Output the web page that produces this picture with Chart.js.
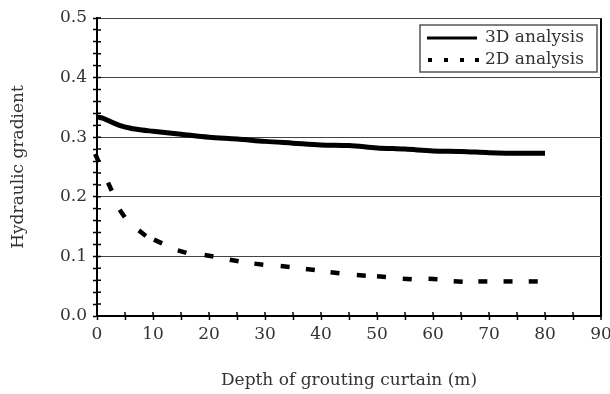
<!DOCTYPE html>
<html>
<head>
<meta charset="utf-8">
<script src="https://cdn.jsdelivr.net/npm/chart.js@4/dist/chart.umd.min.js"></script>
<style>
  html, body { margin: 0; padding: 0; background: #fff; }
  #wrap { width: 610px; height: 394px; }
</style>
</head>
<body>
<div id="wrap"><canvas id="grad" width="610" height="394"></canvas></div>
<script>
// hydraulic gradient vs depth of grouting curtain
const depth3D = [0, 1, 2, 4, 6, 8, 10, 15, 20, 25, 30, 35, 40, 45, 50, 55, 60, 65, 70, 75, 80];
const grad3D  = [0.334, 0.332, 0.328, 0.320, 0.315, 0.312, 0.310, 0.305, 0.300, 0.297, 0.293,
                 0.290, 0.287, 0.286, 0.282, 0.280, 0.277, 0.276, 0.274, 0.273, 0.273];

const depth2D = [0, 2.3, 4.5, 8.1, 10.9, 15.2, 20, 24.5, 28.9, 33.6, 38.1, 42.5, 47.2, 50.8,
                 55.4, 60, 64.5, 68.9, 73.4, 77.9];
const grad2D  = [0.265, 0.217, 0.172, 0.139, 0.125, 0.108, 0.101, 0.093, 0.087, 0.083, 0.078,
                 0.0725, 0.068, 0.066, 0.062, 0.062, 0.058, 0.058, 0.058, 0.058];

const seriesNames = ['3D analysis', '2D analysis'];
const xTickLabels = [0, 10, 20, 30, 40, 50, 60, 70, 80, 90];
const yTickLabels = ['0.0', '0.1', '0.2', '0.3', '0.4', '0.5'];

const FONT = 'DejaVu Serif';
const FSIZE = 17;
const TEXT = '#333';

function toPoints(xs, ys) {
    return xs.map((x, i) => ({ x: x, y: ys[i] }));
}

function isMajor(v, step) {
    const k = v / step;
    return Math.abs(k - Math.round(k)) < 1e-6;
}

// dash orientation follows the curve between neighbouring points
function dashAngle(ctx) {
    const i = ctx.dataIndex;
    const n = depth2D.length;
    const a = Math.max(i - 1, 0), b = Math.min(i + 1, n - 1);
    const sx = ctx.chart.scales.x, sy = ctx.chart.scales.y;
    if (!sx || !sy) return 0;
    const dx = sx.getPixelForValue(depth2D[b]) - sx.getPixelForValue(depth2D[a]);
    const dy = sy.getPixelForValue(grad2D[b]) - sy.getPixelForValue(grad2D[a]);
    return Math.atan2(dy, dx) * 180 / Math.PI;
}

// tick marks cross the axis: draw the inner half
const innerTicks = {
    id: 'innerTicks',
    afterDatasetsDraw(chart) {
        const { ctx, scales: { x, y } } = chart;
        ctx.save();
        ctx.strokeStyle = '#000';
        ctx.lineWidth = 1.5;
        ctx.beginPath();
        y.ticks.forEach(t => {
            const py = y.getPixelForValue(t.value);
            ctx.moveTo(x.left, py);
            ctx.lineTo(x.left + 4, py);
        });
        x.ticks.forEach(t => {
            const px = x.getPixelForValue(t.value);
            ctx.moveTo(px, y.bottom);
            ctx.lineTo(px, y.bottom - 4);
        });
        ctx.stroke();
        ctx.restore();
    }
};

// boxed legend in the upper right corner
const boxLegend = {
    id: 'boxLegend',
    afterDraw(chart) {
        const ctx = chart.ctx;
        const bx = 420, by = 25, bw = 177, bh = 47;
        ctx.save();
        ctx.fillStyle = '#fff';
        ctx.fillRect(bx, by, bw, bh);
        ctx.strokeStyle = '#555';
        ctx.lineWidth = 1.5;
        ctx.strokeRect(bx, by, bw, bh);

        ctx.strokeStyle = '#000';
        ctx.lineWidth = 3;
        ctx.beginPath();
        ctx.moveTo(427, 38);
        ctx.lineTo(477, 38);
        ctx.stroke();

        ctx.fillStyle = '#000';
        [430, 446, 462, 477].forEach(px => ctx.fillRect(px - 2, 58, 4, 4));

        ctx.fillStyle = TEXT;
        ctx.font = FSIZE + 'px "' + FONT + '"';
        ctx.textBaseline = 'middle';
        ctx.fillText(seriesNames[0], 485, 38);
        ctx.fillText(seriesNames[1], 485, 60);
        ctx.restore();
    }
};

new Chart(document.getElementById('grad'), {
    type: 'scatter',
    data: {
        datasets: [{
            label: seriesNames[0],
            data: toPoints(depth3D, grad3D),
            showLine: true,
            borderColor: '#000',
            borderWidth: 5,
            pointRadius: 0,
            cubicInterpolationMode: 'monotone'
        }, {
            label: seriesNames[1],
            data: toPoints(depth2D, grad2D),
            showLine: false,
            pointStyle: 'line',
            pointRadius: 4.5,
            pointBorderWidth: 4.5,
            pointBorderColor: '#000',
            pointRotation: dashAngle,
            clip: false
        }]
    },
    options: {
        responsive: false,
        animation: false,
        events: [],
        layout: { padding: { top: 18, right: 8, bottom: 0, left: 0 } },
        plugins: {
            legend: { display: false },
            tooltip: { enabled: false }
        },
        scales: {
            x: {
                type: 'linear',
                min: 0,
                max: 90,
                afterFit: s => { s.height = 78; s.paddingRight = 0; },
                ticks: {
                    stepSize: 5,
                    autoSkip: false,
                    maxRotation: 0,
                    padding: 4,
                    color: TEXT,
                    font: { family: FONT, size: FSIZE },
                    callback: v => xTickLabels.includes(v) ? String(v) : ''
                },
                grid: {
                    drawTicks: true,
                    tickLength: 4,
                    tickWidth: 1.5,
                    tickColor: '#000',
                    color: c => (c.tick && c.tick.value === 90) ? '#000' : 'rgba(0,0,0,0)',
                    lineWidth: c => (c.tick && c.tick.value === 90) ? 2 : 1
                },
                border: { display: true, color: '#000', width: 2 },
                title: {
                    display: true,
                    text: 'Depth of grouting curtain (m)',
                    color: TEXT,
                    font: { family: FONT, size: FSIZE },
                    padding: { top: 0, bottom: 3 }
                }
            },
            y: {
                min: 0,
                max: 0.5,
                afterFit: s => { s.width = 97; },
                ticks: {
                    stepSize: 0.02,
                    autoSkip: false,
                    padding: 6,
                    color: TEXT,
                    font: { family: FONT, size: FSIZE },
                    callback: v => isMajor(v, 0.1) ? yTickLabels[Math.round(v * 10)] : ''
                },
                grid: {
                    drawTicks: true,
                    tickLength: 4,
                    tickWidth: 1.5,
                    tickColor: '#000',
                    color: c => (c.tick && isMajor(c.tick.value, 0.1)) ? '#444' : 'rgba(0,0,0,0)',
                    lineWidth: 1
                },
                border: { display: true, color: '#000', width: 2 },
                title: {
                    display: true,
                    text: 'Hydraulic gradient',
                    color: TEXT,
                    font: { family: FONT, size: FSIZE },
                    padding: { top: 8, bottom: 0 }
                }
            }
        }
    },
    plugins: [innerTicks, boxLegend]
});
</script>
</body>
</html>
